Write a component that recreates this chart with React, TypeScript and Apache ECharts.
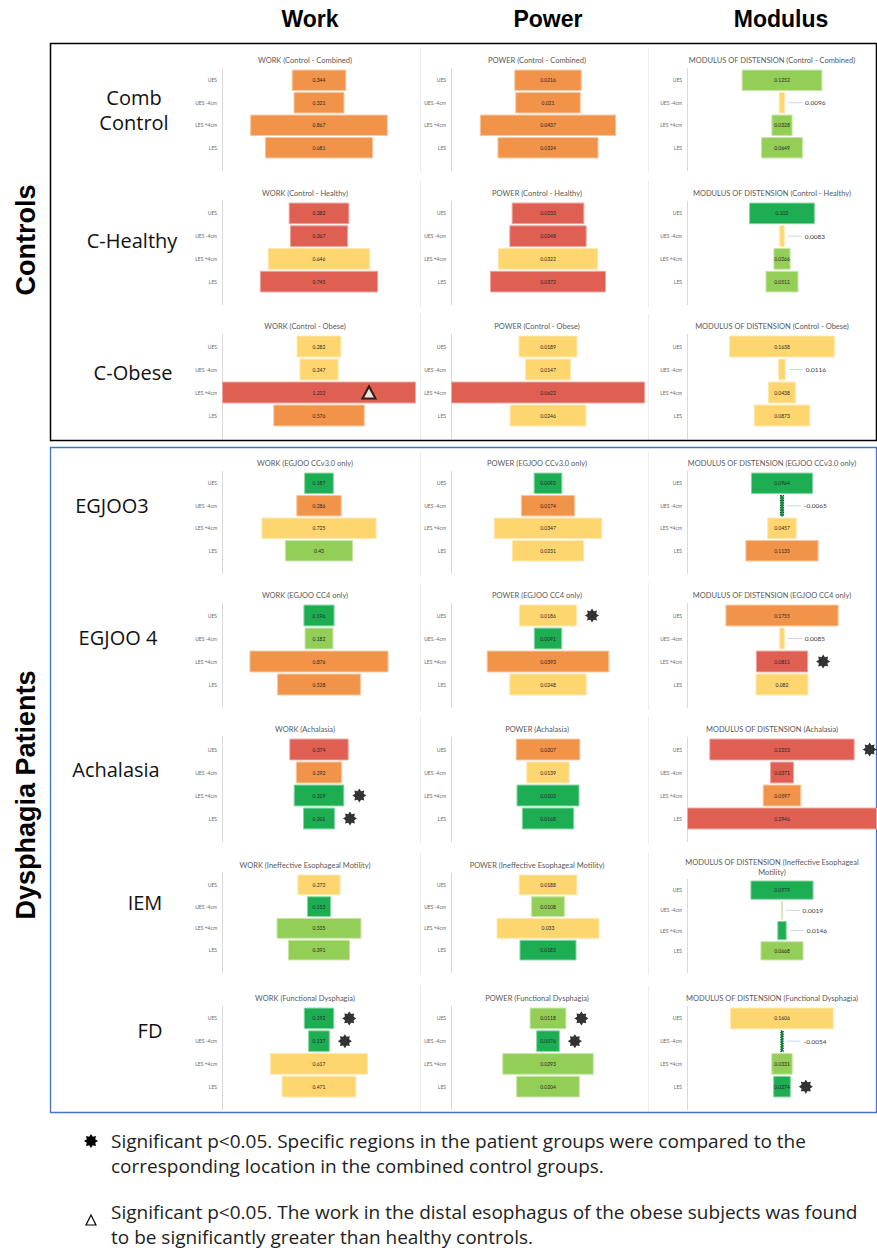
import React, { useEffect, useRef } from 'react';
import * as echarts from 'echarts';

// Oesophageal regions, top to bottom in every small funnel chart
const categories = ['UES', 'UES -4cm', 'LES +4cm', 'LES'];

const groupLabels = ['Comb\nControl', 'C-Healthy', 'C-Obese', 'EGJOO3', 'EGJOO 4', 'Achalasia', 'IEM', 'FD'];

const workTitles = [
  'WORK (Control - Combined)',
  'WORK (Control - Healthy)',
  'WORK (Control - Obese)',
  'WORK (EGJOO CCv3.0 only)',
  'WORK (EGJOO CC4 only)',
  'WORK (Achalasia)',
  'WORK (Ineffective Esophageal Motility)',
  'WORK (Functional Dysphagia)',
];
const powerTitles = [
  'POWER (Control - Combined)',
  'POWER (Control - Healthy)',
  'POWER (Control - Obese)',
  'POWER (EGJOO CCv3.0 only)',
  'POWER (EGJOO CC4 only)',
  'POWER (Achalasia)',
  'POWER (Ineffective Esophageal Motility)',
  'POWER (Functional Dysphagia)',
];
const modulusTitles = [
  'MODULUS OF DISTENSION (Control - Combined)',
  'MODULUS OF DISTENSION (Control - Healthy)',
  'MODULUS OF DISTENSION (Control - Obese)',
  'MODULUS OF DISTENSION (EGJOO CCv3.0 only)',
  'MODULUS OF DISTENSION (EGJOO CC4 only)',
  'MODULUS OF DISTENSION (Achalasia)',
  'MODULUS OF DISTENSION (Ineffective Esophageal\nMotility)',
  'MODULUS OF DISTENSION (Functional Dysphagia)',
];

// values per group: [UES, UES -4cm, LES +4cm, LES]
const workValues = [
  [0.344, 0.321, 0.867, 0.681],
  [0.382, 0.367, 0.646, 0.745],
  [0.282, 0.247, 1.222, 0.576],
  [0.187, 0.286, 0.725, 0.43],
  [0.196, 0.182, 0.876, 0.528],
  [0.374, 0.292, 0.319, 0.201],
  [0.272, 0.152, 0.535, 0.391],
  [0.192, 0.137, 0.617, 0.471],
];
const powerValues = [
  [0.0216, 0.021, 0.0437, 0.0324],
  [0.0233, 0.0248, 0.0322, 0.0372],
  [0.0189, 0.0147, 0.0622, 0.0246],
  [0.0092, 0.0174, 0.0347, 0.0231],
  [0.0186, 0.0091, 0.0393, 0.0248],
  [0.0207, 0.0139, 0.0202, 0.0168],
  [0.0188, 0.0108, 0.033, 0.0183],
  [0.0118, 0.0076, 0.0293, 0.0204],
];
const modulusValues = [
  [0.1252, 0.0096, 0.0328, 0.0649],
  [0.102, 0.0083, 0.0266, 0.0511],
  [0.1638, 0.0116, 0.0438, 0.0873],
  [0.0964, -0.0065, 0.0457, 0.1135],
  [0.1755, 0.0085, 0.0811, 0.082],
  [0.2253, 0.0371, 0.0597, 0.2946],
  [0.0979, 0.0019, 0.0146, 0.0668],
  [0.1606, -0.0054, 0.0331, 0.0274],
];

// heat colour of each bar: R red, O orange, Y yellow, L light green, G green
const workColors = ['OOOO', 'RRYR', 'YYRO', 'GOYL', 'GLOO', 'ROGG', 'YGLL', 'GGYY'];
const powerColors = ['OOOO', 'RRYR', 'YYRY', 'GOYY', 'YGOY', 'OYGG', 'YLYG', 'LGLL'];
const modulusColors = ['LYLL', 'GYLL', 'YYYY', 'GGYO', 'OYRY', 'RROR', 'GLGL', 'YGLG'];

// significant regions: [group, metric (0 work, 1 power, 2 modulus), region]
const significantStars = [
  [4, 1, 0], [4, 2, 2],
  [5, 0, 2], [5, 0, 3], [5, 2, 0],
  [7, 0, 0], [7, 0, 1], [7, 1, 0], [7, 1, 1], [7, 2, 3],
];
const obeseVsHealthy = [[2, 0, 2]];

const FILL: Record<string, string> = { R: '#DF5F53', O: '#F1944A', Y: '#FED66F', L: '#93CE57', G: '#1DAE53' };
const EDGE: Record<string, string> = { R: '#F0A49C', O: '#F8C59C', Y: '#FFE7AC', L: '#C6E5A6', G: '#86D5A1' };

// layout
const COLS = [
  { left: 222, width: 194, titleX: 305, sepX: 0 },
  { left: 451, width: 194, titleX: 537, sepX: 420.5 },
  { left: 687, width: 197, titleX: 772, sepX: 648.5 },
];
const ROWS = [
  [69, 159], [202, 293], [335, 427], [472, 562], [604, 696], [738, 830], [874, 961], [1007, 1098],
];
const ROW_LABEL_POS = [
  [134, 110], [132, 240], [133, 372], [112, 505], [118, 637], [116, 769], [145, 902], [150, 1030],
];

function starPoints(cx: number, cy: number, ro: number, ri: number, n = 8) {
  const pts: number[][] = [];
  for (let k = 0; k < 2 * n; k++) {
    const r = k % 2 === 0 ? ro : ri;
    const a = -Math.PI / 2 + (k * Math.PI) / n;
    pts.push([cx + r * Math.cos(a), cy + r * Math.sin(a)]);
  }
  return pts;
}
const STAR_PATH =
  'path://' +
  starPoints(10, 10, 10, 6.6)
    .map((p, i) => (i ? 'L' : 'M') + p[0].toFixed(2) + ' ' + p[1].toFixed(2))
    .join(' ') +
  ' Z';

function buildOption() {
  const metrics = [
    { values: workValues, colors: workColors, titles: workTitles },
    { values: powerValues, colors: powerColors, titles: powerTitles },
    { values: modulusValues, colors: modulusColors, titles: modulusTitles },
  ];
  const grid: any[] = [];
  const xAxis: any[] = [];
  const yAxis: any[] = [];
  const series: any[] = [];
  const graphic: any[] = [];

  metrics.forEach((m, c) => {
    const M = Math.max(...m.values.flat().map((v) => Math.abs(v)));
    m.values.forEach((vals, r) => {
      const idx = grid.length;
      const twoLine = m.titles[r].includes('\n');
      const top = twoLine ? ROWS[r][0] + 6 : ROWS[r][0];
      const bottom = ROWS[r][1];
      grid.push({ left: COLS[c].left, top, width: COLS[c].width, height: bottom - top });
      xAxis.push({ gridIndex: idx, type: 'value', min: 0, max: M, show: false });
      yAxis.push({
        gridIndex: idx,
        type: 'category',
        data: categories,
        inverse: true,
        axisLine: { show: false },
        axisTick: { show: false },
        splitLine: { show: false },
        axisLabel: { fontSize: 5, color: '#6b6b6b', margin: 5, fontFamily: 'Lato' },
      });

      // invisible spacer centres each bar on the axis
      series.push({
        type: 'bar',
        xAxisIndex: idx,
        yAxisIndex: idx,
        stack: 'funnel' + idx,
        silent: true,
        barCategoryGap: '5%',
        itemStyle: { color: 'rgba(0,0,0,0)' },
        data: vals.map((v) => (M - Math.abs(v)) / 2),
      });
      series.push({
        type: 'bar',
        xAxisIndex: idx,
        yAxisIndex: idx,
        stack: 'funnel' + idx,
        barCategoryGap: '5%',
        data: vals.map((v, k) => {
          const key = m.colors[r][k];
          const thin = Math.abs(v) / M < 0.06;
          const neg = v < 0;
          return {
            value: Math.abs(v),
            itemStyle: neg
              ? { color: '#178F45', borderColor: '#0B5A2A', borderWidth: 1.2, borderType: 'dotted' }
              : { color: FILL[key], borderColor: EDGE[key], borderWidth: 1 },
            label: thin
              ? {
                  show: true,
                  position: 'right',
                  distance: 3,
                  formatter: '{l| }{v|' + String(v) + '}',
                  rich: {
                    l: { width: 14, height: 1, backgroundColor: '#C8D7EC' },
                    v: { fontSize: 6.5, color: '#404040', fontFamily: 'Lato', padding: [0, 0, 0, 3] },
                  },
                }
              : {
                  show: true,
                  position: 'inside',
                  formatter: String(v),
                  fontSize: 5,
                  color: '#262626',
                  fontFamily: 'Lato',
                },
          };
        }),
      });

      // significance markers sit just past the right end of their bar
      const stars = significantStars.filter((s) => s[0] === r && s[1] === c);
      if (stars.length) {
        series.push({
          type: 'scatter',
          xAxisIndex: idx,
          yAxisIndex: idx,
          symbol: STAR_PATH,
          symbolSize: 14,
          symbolOffset: [15, 0],
          itemStyle: { color: '#000' },
          z: 5,
          data: stars.map((s) => [(M + Math.abs(vals[s[2]])) / 2, categories[s[2]]]),
        });
      }
      const tris = obeseVsHealthy.filter((s) => s[0] === r && s[1] === c);
      if (tris.length) {
        series.push({
          type: 'scatter',
          xAxisIndex: idx,
          yAxisIndex: idx,
          symbol: 'triangle',
          symbolSize: [13, 12],
          symbolOffset: [-47, 0],
          itemStyle: { color: '#fff', borderColor: '#000', borderWidth: 2 },
          z: 5,
          data: tris.map((s) => [(M + Math.abs(vals[s[2]])) / 2, categories[s[2]]]),
        });
      }

      // chart title
      graphic.push({
        type: 'text',
        x: COLS[c].titleX,
        y: twoLine ? ROWS[r][0] - 7 : ROWS[r][0] - 9,
        style: {
          text: m.titles[r],
          fontSize: 7.5,
          lineHeight: 10,
          fontFamily: 'Lato',
          fill: '#595959',
          textAlign: 'center',
          textVerticalAlign: 'middle',
        },
      });
      // vertical axis line
      graphic.push({
        type: 'line',
        shape: { x1: COLS[c].left + 0.5, y1: top - 1, x2: COLS[c].left + 0.5, y2: bottom + 12 },
        style: { stroke: '#D9D9D9', lineWidth: 1 },
      });
      // faint chart frame edge
      if (COLS[c].sepX) {
        graphic.push({
          type: 'line',
          shape: { x1: COLS[c].sepX, y1: ROWS[r][0] - 21, x2: COLS[c].sepX, y2: bottom + 14 },
          style: { stroke: '#EDEDED', lineWidth: 1 },
        });
      }
    });
  });

  // column headers
  [['Work', 310], ['Power', 548], ['Modulus', 781]].forEach(([t, x]) => {
    graphic.push({
      type: 'text',
      x: x as number,
      y: 19,
      style: {
        text: t as string,
        fontSize: 23,
        fontWeight: 'bold',
        fontFamily: 'Liberation Sans',
        fill: '#000',
        textAlign: 'center',
        textVerticalAlign: 'middle',
      },
    });
  });

  // group boxes
  graphic.push({
    type: 'rect',
    shape: { x: 50.5, y: 43.5, width: 826, height: 397 },
    style: { fill: 'none', stroke: '#000', lineWidth: 1.5 },
  });
  graphic.push({
    type: 'rect',
    shape: { x: 50.5, y: 447.5, width: 826, height: 665 },
    style: { fill: 'none', stroke: '#4472C4', lineWidth: 1.3 },
  });

  // vertical group names
  [['Controls', 240], ['Dysphagia Patients', 795]].forEach(([t, y]) => {
    graphic.push({
      type: 'text',
      x: 26,
      y: y as number,
      rotation: Math.PI / 2,
      style: {
        text: t as string,
        fontSize: 27,
        fontWeight: 'bold',
        fontFamily: 'Liberation Sans',
        fill: '#000',
        textAlign: 'center',
        textVerticalAlign: 'middle',
      },
    });
  });

  // row labels
  groupLabels.forEach((t, r) => {
    graphic.push({
      type: 'text',
      x: ROW_LABEL_POS[r][0],
      y: ROW_LABEL_POS[r][1],
      style: {
        text: t,
        fontSize: 20,
        lineHeight: 25,
        fontFamily: 'Open Sans',
        fill: '#111',
        textAlign: 'center',
        textVerticalAlign: 'middle',
      },
    });
  });

  // key
  graphic.push({
    type: 'polygon',
    shape: { points: starPoints(91, 1141, 7, 4.6) },
    style: { fill: '#000' },
  });
  graphic.push({
    type: 'polygon',
    shape: { points: [[86, 1225], [96, 1225], [91, 1215]] },
    style: { fill: '#fff', stroke: '#000', lineWidth: 1.2 },
  });
  [
    ['Significant p<0.05. Specific regions in the patient groups were compared to the', 1141],
    ['corresponding location in the combined control groups.', 1166],
    ['Significant p<0.05. The work in the distal esophagus of the obese subjects was found', 1212],
    ['to be significantly greater than healthy controls.', 1237],
  ].forEach(([t, y]) => {
    graphic.push({
      type: 'text',
      x: 111,
      y: y as number,
      style: {
        text: t as string,
        fontSize: 19,
        fontFamily: 'Open Sans',
        fill: '#222',
        textAlign: 'left',
        textVerticalAlign: 'middle',
      },
    });
  });

  return {
    animation: false,
    backgroundColor: '#fff',
    grid,
    xAxis,
    yAxis,
    series,
    graphic,
  };
}

export default function App() {
  const ref = useRef<HTMLDivElement>(null);
  useEffect(() => {
    const chart = echarts.init(ref.current!, null, { renderer: 'svg' });
    chart.setOption(buildOption() as any);
    return () => chart.dispose();
  }, []);
  return (
    <div
      ref={ref}
      style={{ position: 'absolute', left: 0, top: 0, width: 877, height: 1253, background: '#fff' }}
    />
  );
}
